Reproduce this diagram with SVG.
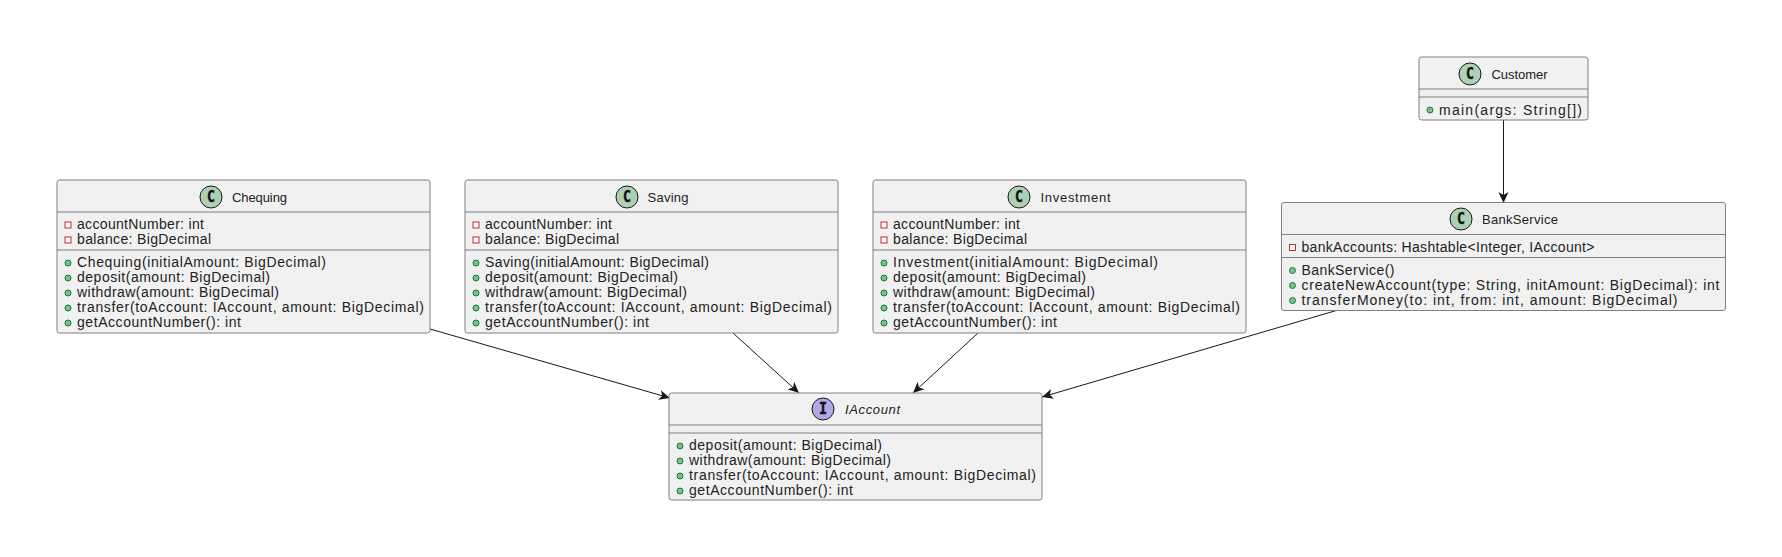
<svg xmlns="http://www.w3.org/2000/svg" width="1782" height="557" viewBox="0 0 1782 557">
<defs>
<marker id="arrow" markerUnits="userSpaceOnUse" markerWidth="14" markerHeight="12" refX="11" refY="5" orient="auto" viewBox="0 0 14 10"><path d="M0 0L11 5L0 10L3 5Z" fill="#181818"/></marker>
<g id="pub"><circle r="3" fill="#84BE84" stroke="#038048"/></g>
<g id="priv"><rect x="-3" y="-3" width="6" height="6" fill="#FFFFFF" stroke="#C82930"/></g>
</defs>
<style>
text{font-family:"Liberation Sans",Arial,sans-serif;fill:#222;font-size:14px}
.title{font-size:13px}
.box{fill:#F1F1F1;stroke:#7f7f7f;stroke-width:1}
.div{stroke:#7f7f7f;stroke-width:1}
.spot{fill:#ADD1B2;stroke:#181818;stroke-width:1}
.ispot{fill:#B4A7E5;stroke:#181818;stroke-width:1}
.glyph{font-family:"DejaVu Sans Mono","Liberation Mono",monospace;font-weight:700;font-size:15px;text-anchor:middle;fill:#111;stroke:#111;stroke-width:.4}
.edge{fill:none;stroke:#181818;stroke-width:1;marker-end:url(#arrow)}
</style>
<rect width="1782" height="557" fill="#fff"/>
<g id="connectors">
<path class="edge" d="M430 329L670 398"/>
<path class="edge" d="M733 333L799 393"/>
<path class="edge" d="M978 333L913 393"/>
<path class="edge" d="M1338 310L1042 397"/>
<path class="edge" d="M1503.5 120L1503.5 203"/>
</g>
<g id="Chequing">
<rect class="box" x="57" y="180" width="373" height="153" rx="2.5"/>
<path class="div" d="M57 212H430M57 250H430"/>
<circle class="spot" cx="211" cy="197" r="11"/><text class="glyph" x="211" y="202" textLength="8" lengthAdjust="spacingAndGlyphs">C</text>
<text class="title" x="232" y="202" textLength="55">Chequing</text>
<use href="#priv" x="68" y="225"/><text x="77" y="229" textLength="127">accountNumber: int</text>
<use href="#priv" x="68" y="240"/><text x="77" y="244" textLength="134">balance: BigDecimal</text>
<use href="#pub" x="68" y="263"/><text x="77" y="267" textLength="249">Chequing(initialAmount: BigDecimal)</text>
<use href="#pub" x="68" y="278"/><text x="77" y="282" textLength="193">deposit(amount: BigDecimal)</text>
<use href="#pub" x="68" y="293"/><text x="77" y="297" textLength="202">withdraw(amount: BigDecimal)</text>
<use href="#pub" x="68" y="308"/><text x="77" y="312" textLength="347">transfer(toAccount: IAccount, amount: BigDecimal)</text>
<use href="#pub" x="68" y="323"/><text x="77" y="327" textLength="164">getAccountNumber(): int</text>
</g>
<g id="Saving">
<rect class="box" x="465" y="180" width="373" height="153" rx="2.5"/>
<path class="div" d="M465 212H838M465 250H838"/>
<circle class="spot" cx="627" cy="197" r="11"/><text class="glyph" x="627" y="202" textLength="8" lengthAdjust="spacingAndGlyphs">C</text>
<text class="title" x="647.5" y="202" textLength="41">Saving</text>
<use href="#priv" x="476" y="225"/><text x="485" y="229" textLength="127">accountNumber: int</text>
<use href="#priv" x="476" y="240"/><text x="485" y="244" textLength="134">balance: BigDecimal</text>
<use href="#pub" x="476" y="263"/><text x="485" y="267" textLength="224">Saving(initialAmount: BigDecimal)</text>
<use href="#pub" x="476" y="278"/><text x="485" y="282" textLength="193">deposit(amount: BigDecimal)</text>
<use href="#pub" x="476" y="293"/><text x="485" y="297" textLength="202">withdraw(amount: BigDecimal)</text>
<use href="#pub" x="476" y="308"/><text x="485" y="312" textLength="347">transfer(toAccount: IAccount, amount: BigDecimal)</text>
<use href="#pub" x="476" y="323"/><text x="485" y="327" textLength="164">getAccountNumber(): int</text>
</g>
<g id="Investment">
<rect class="box" x="873" y="180" width="373" height="153" rx="2.5"/>
<path class="div" d="M873 212H1246M873 250H1246"/>
<circle class="spot" cx="1019" cy="197" r="11"/><text class="glyph" x="1019" y="202" textLength="8" lengthAdjust="spacingAndGlyphs">C</text>
<text class="title" x="1040.5" y="202" textLength="70">Investment</text>
<use href="#priv" x="884" y="225"/><text x="893" y="229" textLength="127">accountNumber: int</text>
<use href="#priv" x="884" y="240"/><text x="893" y="244" textLength="134">balance: BigDecimal</text>
<use href="#pub" x="884" y="263"/><text x="893" y="267" textLength="265">Investment(initialAmount: BigDecimal)</text>
<use href="#pub" x="884" y="278"/><text x="893" y="282" textLength="193">deposit(amount: BigDecimal)</text>
<use href="#pub" x="884" y="293"/><text x="893" y="297" textLength="202">withdraw(amount: BigDecimal)</text>
<use href="#pub" x="884" y="308"/><text x="893" y="312" textLength="347">transfer(toAccount: IAccount, amount: BigDecimal)</text>
<use href="#pub" x="884" y="323"/><text x="893" y="327" textLength="164">getAccountNumber(): int</text>
</g>
<g id="IAccount">
<rect class="box" x="669" y="393" width="373" height="107" rx="2.5"/>
<path class="div" d="M669 425H1042M669 433H1042"/>
<circle class="ispot" cx="823" cy="409" r="11"/><text class="glyph" x="823" y="414" textLength="8" lengthAdjust="spacingAndGlyphs">I</text>
<text class="title" x="845" y="414" font-style="italic" textLength="55">IAccount</text>
<use href="#pub" x="680" y="446"/><text x="689" y="450" textLength="193">deposit(amount: BigDecimal)</text>
<use href="#pub" x="680" y="461"/><text x="689" y="465" textLength="202">withdraw(amount: BigDecimal)</text>
<use href="#pub" x="680" y="476"/><text x="689" y="480" textLength="347">transfer(toAccount: IAccount, amount: BigDecimal)</text>
<use href="#pub" x="680" y="491"/><text x="689" y="495" textLength="164">getAccountNumber(): int</text>
</g>
<g id="Customer">
<rect class="box" x="1419" y="57" width="169" height="63" rx="2.5"/>
<path class="div" d="M1419 89H1588M1419 97H1588"/>
<circle class="spot" cx="1470" cy="74" r="11"/><text class="glyph" x="1470" y="79" textLength="8" lengthAdjust="spacingAndGlyphs">C</text>
<text class="title" x="1491.5" y="79" textLength="56">Customer</text>
<use href="#pub" x="1430" y="110"/><text x="1439" y="115" textLength="143">main(args: String[])</text>
</g>
<g id="BankService">
<rect class="box" x="1281.5" y="202.5" width="444" height="108" rx="2.5"/>
<path class="div" d="M1281.5 234.5H1725.5M1281.5 257.5H1725.5"/>
<circle class="spot" cx="1461" cy="219" r="11"/><text class="glyph" x="1461" y="224" textLength="8" lengthAdjust="spacingAndGlyphs">C</text>
<text class="title" x="1482" y="224" textLength="76">BankService</text>
<use href="#priv" x="1292.5" y="247.5"/><text x="1301.5" y="252" textLength="293">bankAccounts: Hashtable&lt;Integer, IAccount&gt;</text>
<use href="#pub" x="1292.5" y="270.5"/><text x="1301.5" y="275" textLength="93">BankService()</text>
<use href="#pub" x="1292.5" y="285.5"/><text x="1301.5" y="290" textLength="418">createNewAccount(type: String, initAmount: BigDecimal): int</text>
<use href="#pub" x="1292.5" y="300.5"/><text x="1301.5" y="305" textLength="376">transferMoney(to: int, from: int, amount: BigDecimal)</text>
</g>
</svg>
